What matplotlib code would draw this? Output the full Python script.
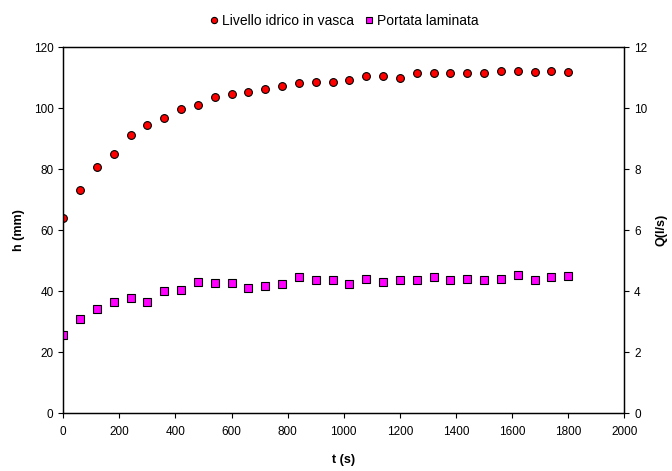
import matplotlib
matplotlib.use("Agg")
import matplotlib.pyplot as plt
from matplotlib.ticker import MultipleLocator

plt.rcParams['font.family'] = ['Liberation Sans', 'DejaVu Sans']

t = [0, 60, 120, 180, 240, 300, 360, 420, 480, 540, 600, 660, 720, 780, 840,
     900, 960, 1020, 1080, 1140, 1200, 1260, 1320, 1380, 1440, 1500, 1560,
     1620, 1680, 1740, 1800]
h = [64.1, 73.0, 80.7, 85.1, 91.1, 94.3, 96.9, 99.8, 101.1, 103.6, 104.6,
     105.2, 106.1, 107.4, 108.1, 108.7, 108.7, 109.1, 110.4, 110.6, 109.9,
     111.6, 111.6, 111.6, 111.6, 111.6, 112.2, 112.2, 111.9, 112.2, 111.9]
Q = [2.57, 3.10, 3.40, 3.65, 3.77, 3.65, 4.00, 4.02, 4.31, 4.28, 4.25, 4.10,
     4.18, 4.23, 4.45, 4.36, 4.36, 4.23, 4.38, 4.31, 4.36, 4.36, 4.45, 4.36,
     4.41, 4.36, 4.41, 4.54, 4.36, 4.45, 4.48]

fig = plt.figure(figsize=(6.72, 4.71), dpi=100)
ax = fig.add_axes([0.094, 0.123, 0.835, 0.777])
ax2 = ax.twinx()

l1, = ax.plot(t, h, 'o', color='#ff0000', markeredgecolor='black',
              markeredgewidth=0.8, markersize=5.6, label='Livello idrico in vasca')
l2, = ax2.plot(t, Q, 's', color='#ff00ff', markeredgecolor='black',
               markeredgewidth=0.8, markersize=5.2, label='Portata laminata')

ax.set_xlim(0, 2000)
ax.set_ylim(0, 120)
ax2.set_ylim(0, 12)
ax.xaxis.set_major_locator(MultipleLocator(200))
ax.yaxis.set_major_locator(MultipleLocator(20))
ax2.yaxis.set_major_locator(MultipleLocator(2))

for a in (ax, ax2):
    a.tick_params(direction='out', length=3.5, width=0.8, labelsize=8.5, colors='black')
    for s in a.spines.values():
        s.set_linewidth(0.9)
        s.set_color('black')
ax.tick_params(axis='x', pad=6)

ax.set_xlabel('t (s)', fontsize=9, fontweight='bold', labelpad=11)
ax.set_ylabel('h (mm)', fontsize=9, fontweight='bold', labelpad=6)
ax2.set_ylabel('Q(l/s)', fontsize=9, fontweight='bold', labelpad=6)

fig.legend(handles=[l1, l2], loc='upper center', bbox_to_anchor=(0.51, 0.997),
           ncol=2, frameon=False, fontsize=10, handletextpad=0.05,
           columnspacing=0.6, handlelength=1.0, markerscale=0.8)

fig.savefig('out.png', dpi=100)
